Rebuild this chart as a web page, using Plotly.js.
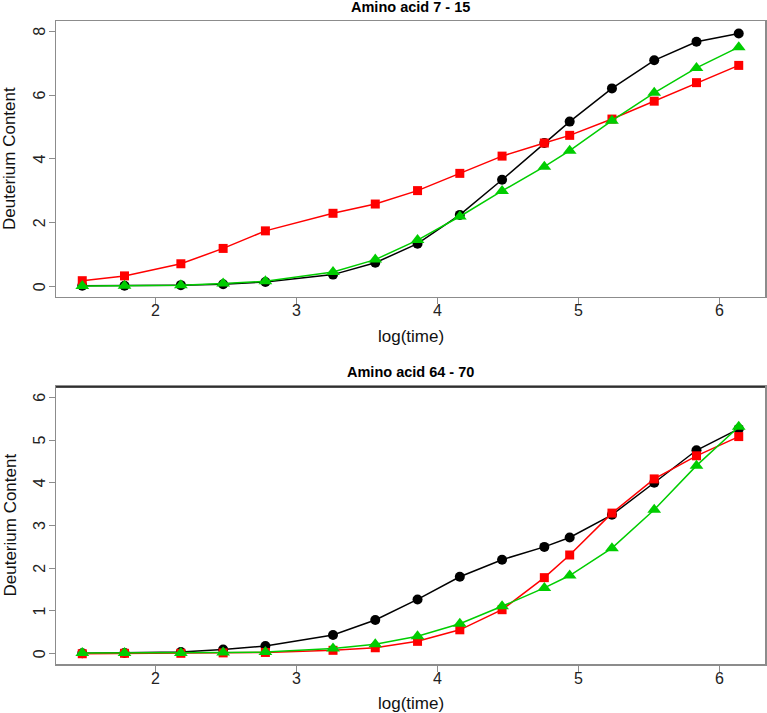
<!DOCTYPE html>
<html>
<head>
<meta charset="utf-8">
<script src="https://cdn.plot.ly/plotly-3.0.1.min.js"></script>
<style>
  html, body { margin: 0; padding: 0; background: #fff; }
  #chart { width: 767px; height: 713px; }
</style>
</head>
<body>
<div id="chart"></div>
<script>
// log10 of exposure time
const logTime = [1.48, 1.78, 2.18, 2.48, 2.78, 3.26, 3.56, 3.86, 4.16, 4.46, 4.76, 4.94, 5.24, 5.54, 5.84, 6.14];

// Panel 1: Amino acid 7 - 15
const title1 = "Amino acid 7 - 15";
const p1Black = [0.03, 0.03, 0.05, 0.08, 0.15, 0.38, 0.75, 1.35, 2.25, 3.35, 4.5, 5.17, 6.21, 7.09, 7.67, 7.93];
const p1Red   = [0.19, 0.34, 0.72, 1.2, 1.75, 2.3, 2.59, 3.01, 3.55, 4.09, 4.5, 4.74, 5.25, 5.81, 6.39, 6.93];
const p1Green = [0.02, 0.03, 0.05, 0.1, 0.17, 0.46, 0.85, 1.46, 2.2, 3.0, 3.76, 4.26, 5.2, 6.07, 6.85, 7.5];
const p1YTicks = [0, 2, 4, 6, 8];

// Panel 2: Amino acid 64 - 70
const title2 = "Amino acid 64 - 70";
const p2Black = [0.01, 0.02, 0.04, 0.1, 0.18, 0.44, 0.79, 1.27, 1.8, 2.2, 2.5, 2.72, 3.25, 4.0, 4.76, 5.26];
const p2Red   = [0.0, 0.01, 0.01, 0.02, 0.03, 0.08, 0.14, 0.29, 0.56, 1.03, 1.78, 2.31, 3.29, 4.09, 4.63, 5.08];
const p2Green = [0.02, 0.02, 0.02, 0.03, 0.04, 0.12, 0.22, 0.41, 0.7, 1.11, 1.54, 1.83, 2.47, 3.37, 4.4, 5.31];
const p2YTicks = [0, 1, 2, 3, 4, 5, 6];

const xTicks = [2, 3, 4, 5, 6];
const xLabel = "log(time)";
const yLabel = "Deuterium Content";

const BLACK = "#000000", RED = "#FF0000", GREEN = "#00CD00";

function series(y, color, symbol, size, xa, ya) {
  return {
    x: logTime, y: y, xaxis: xa, yaxis: ya,
    type: "scatter", mode: "lines+markers",
    line: { color: color, width: 1.5 },
    marker: { color: color, symbol: symbol, size: size, line: { width: 0 } },
    showlegend: false, hoverinfo: "x+y"
  };
}

const traces = [
  series(p1Black, BLACK, "circle", 10, "x", "y"),
  series(p1Red, RED, "square", 9, "x", "y"),
  series(p1Green, GREEN, "triangle-up", 12, "x", "y"),
  series(p2Black, BLACK, "circle", 10, "x2", "y2"),
  series(p2Red, RED, "square", 9, "x2", "y2"),
  series(p2Green, GREEN, "triangle-up", 12, "x2", "y2")
];

const FONT = "Liberation Sans, Arial, sans-serif";
const AXC = "#8c8c8c";
const TICKFONT = { family: FONT, size: 16, color: "#222" };
const LABFONT = { family: FONT, size: 17, color: "#111" };

function xAxis(anchor) {
  return {
    anchor: anchor, domain: [0, 1], range: [1.2936, 6.3264],
    tickmode: "array", tickvals: xTicks, showticklabels: false,
    ticks: "outside", ticklen: 6, tickwidth: 1, tickcolor: AXC,
    showline: true, linecolor: AXC, linewidth: 1.5, mirror: true,
    showgrid: false, zeroline: false
  };
}
function yAxis(anchor, domain, range, ticks) {
  return {
    anchor: anchor, domain: domain, range: range,
    tickmode: "array", tickvals: ticks, showticklabels: false,
    ticks: "outside", ticklen: 6, tickwidth: 1, tickcolor: AXC,
    showline: true, linecolor: AXC, linewidth: 1.5, mirror: true,
    showgrid: false, zeroline: false
  };
}

const annotations = [];
function panelText(xa, ya, yTicks, title, xShiftLab, titleShift) {
  const xd = xa + " domain", yd = ya + " domain";
  xTicks.forEach(v => annotations.push({
    text: String(v), xref: xa, yref: yd, x: v, y: 0, yshift: -xShiftLab,
    xanchor: "center", yanchor: "middle", showarrow: false, font: TICKFONT
  }));
  yTicks.forEach(v => annotations.push({
    text: String(v), xref: xd, yref: ya, x: 0, y: v, xshift: -16.5, textangle: -90,
    xanchor: "center", yanchor: "middle", showarrow: false, font: TICKFONT
  }));
  annotations.push({
    text: xLabel, xref: xd, yref: yd, x: 0.5, y: 0, yshift: -39.5,
    xanchor: "center", yanchor: "middle", showarrow: false, font: LABFONT
  });
  annotations.push({
    text: yLabel, xref: xd, yref: yd, x: 0, y: 0.5, xshift: -46, textangle: -90,
    xanchor: "center", yanchor: "middle", showarrow: false, font: LABFONT, borderpad: 0
  });
  annotations.push({
    text: "<b>" + title + "</b>", xref: xd, yref: yd, x: 0.5, y: 1, yshift: titleShift,
    xanchor: "center", yanchor: "middle", showarrow: false,
    font: { family: FONT, size: 14.5, color: "#000" }
  });
}
panelText("x", "y", p1YTicks, title1, 13.5, 14);
panelText("x2", "y2", p2YTicks, title2, 14.5, 15);

const layout = {
  width: 767, height: 713,
  margin: { l: 56, r: 2, t: 21, b: 49 },
  paper_bgcolor: "#ffffff", plot_bgcolor: "#ffffff",
  font: { family: FONT },
  xaxis: xAxis("y"),
  yaxis: yAxis("x", [0.5708, 1], [-0.32, 8.32], p1YTicks),
  xaxis2: xAxis("y2"),
  yaxis2: yAxis("x2", [0, 0.4308], [-0.24, 6.24], p2YTicks),
  annotations: annotations,
  shapes: [
    { type: "line", xref: "x2 domain", yref: "y2 domain", x0: 0, x1: 1, y0: 1, y1: 1,
      line: { color: "#111", width: 1.5 } }
  ]
};

Plotly.newPlot("chart", traces, layout, { displayModeBar: false, staticPlot: true });
</script>
</body>
</html>
